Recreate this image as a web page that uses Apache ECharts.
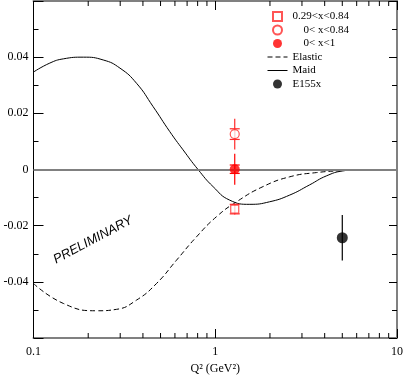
<!DOCTYPE html>
<html>
<head>
<meta charset="utf-8">
<script src="https://cdn.jsdelivr.net/npm/echarts@6/dist/echarts.min.js"></script>
<style>
  html, body { margin: 0; padding: 0; background: #fff; }
  #chart { width: 405px; height: 376px; }
</style>
</head>
<body>
<div id="chart"></div>
<script>
// curves (Q2 in GeV2)
var maidQ2 = [0.1, 0.123, 0.146, 0.188, 0.242, 0.299, 0.369, 0.455, 0.562, 0.665, 0.804, 0.973, 1.20, 1.55, 1.99, 2.57, 3.30, 4.08, 5.04, 6.4, 10];
var maidVal = [0.0347, 0.0379, 0.0394, 0.0400, 0.0390, 0.0361, 0.0307, 0.0224, 0.0135, 0.0070, 0.0, -0.0061, -0.0109, -0.0124, -0.0115, -0.0091, -0.0055, -0.0023, -0.0005, 0, 0];
var elasticQ2 = [0.1, 0.146, 0.222, 0.286, 0.369, 0.475, 0.612, 0.788, 1.016, 1.31, 1.83, 2.57, 3.60, 5.04, 7, 10];
var elasticVal = [-0.0406, -0.0477, -0.0503, -0.0498, -0.0465, -0.0406, -0.0323, -0.0240, -0.0168, -0.0115, -0.0061, -0.0026, -0.0011, -0.0004, 0, 0];

// measured points
var pointNames = ['0.29<x<0.84', '    0< x<0.84', '    0< x<1', 'E155x'];
var pointQ2 = [1.28, 1.28, 1.28, 5.0];
var pointVal = [-0.0141, 0.0126, 0.0001, -0.0243];
var statErr = [0.0017, 0.0019, 0.0015, 0.0081];
var totalErr = [0.0019, 0.0055, 0.0055, 0.0081];

// minor ticks of the log axis
var xMinorTicks = [0.2, 0.3, 0.4, 0.5, 0.6, 0.7, 0.8, 0.9, 2, 3, 4, 5, 6, 7, 8, 9];

var serif = 'Liberation Serif';
var pointColors = ['#ff2a2a', '#ff2a2a', '#ff0000', '#000'];
var pointCaps = [true, true, true, false];

function pairs(xs, ys) {
  var out = [];
  for (var i = 0; i < xs.length; i++) out.push([xs[i], ys[i]]);
  return out;
}

var chart = echarts.init(document.getElementById('chart'));

var errData = [];
for (var i = 0; i < pointQ2.length; i++) {
  errData.push([pointQ2[i], pointVal[i], statErr[i], totalErr[i]]);
}

var noFill = 'rgba(0,0,0,0)';

var option = {
  animation: false,
  grid: { left: 33.5, right: 8, top: 1, bottom: 38, outerBoundsMode: 'none', containLabel: false },
  legend: {
    left: 262,
    top: 6,
    orient: 'vertical',
    itemWidth: 20,
    itemHeight: 9,
    itemGap: 2.5,
    lineStyle: { width: 1 },
    textStyle: { fontFamily: serif, fontSize: 11, color: '#000' },
    data: [pointNames[0], pointNames[1], pointNames[2], 'Elastic', 'Maid', pointNames[3]]
  },
  xAxis: [{
    type: 'log',
    logBase: 10,
    min: 0.1,
    max: 10,
    position: 'bottom',
    axisLine: { onZero: false, lineStyle: { color: '#808080', width: 2 } },
    axisTick: { inside: true, length: 9, lineStyle: { color: '#000' } },
    axisLabel: { fontFamily: serif, fontSize: 12, color: '#000', margin: 8 },
    splitLine: { show: false },
    name: 'Q² (GeV²)',
    nameLocation: 'middle',
    nameGap: 24,
    nameTextStyle: { fontFamily: serif, fontSize: 12, color: '#000' }
  }, {
    type: 'log',
    logBase: 10,
    min: 0.1,
    max: 10,
    position: 'top',
    axisLine: { onZero: false, lineStyle: { color: '#808080', width: 2 } },
    axisTick: { inside: true, length: 9, lineStyle: { color: '#000' } },
    axisLabel: { show: false },
    splitLine: { show: false }
  }],
  yAxis: [{
    type: 'value',
    min: -0.06,
    max: 0.06,
    interval: 0.02,
    position: 'left',
    axisLine: { onZero: false, lineStyle: { color: '#000', width: 1 } },
    axisTick: { inside: true, length: 10, lineStyle: { color: '#000' } },
    minorTick: { show: true, splitNumber: 2, length: 5, lineStyle: { color: '#000' } },
    axisLabel: {
      fontFamily: serif, fontSize: 12, color: '#000', margin: 5,
      formatter: function (v) {
        if (Math.abs(v) < 1e-9) return '0';
        if (Math.abs(v) > 0.05) return '';
        return v.toFixed(2);
      }
    },
    splitLine: { show: false }
  }, {
    type: 'value',
    min: -0.06,
    max: 0.06,
    interval: 0.02,
    position: 'right',
    axisLine: { onZero: false, lineStyle: { color: '#808080', width: 2 } },
    axisTick: { inside: true, length: 8, lineStyle: { color: '#000' } },
    minorTick: { show: true, splitNumber: 2, length: 5, lineStyle: { color: '#000' } },
    axisLabel: { show: false },
    splitLine: { show: false }
  }],
  graphic: [{
    type: 'text',
    x: 93,
    y: 240,
    rotation: 28 * Math.PI / 180,
    style: {
      text: 'PRELIMINARY',
      fontFamily: 'Liberation Sans',
      fontStyle: 'italic',
      fontSize: 13,
      fill: '#000',
      align: 'center',
      verticalAlign: 'middle'
    }
  }],
  series: [
    {
      // minor ticks on bottom and top of the log axis, plus the zero line
      type: 'custom',
      silent: true,
      data: xMinorTicks.map(function (v) { return [v, 0]; }),
      renderItem: function (params, api) {
        var b = api.coord([api.value(0), -0.06]);
        var t = api.coord([api.value(0), 0.06]);
        var st = { stroke: '#000', lineWidth: 1 };
        return {
          type: 'group',
          children: [
            { type: 'line', shape: { x1: b[0], y1: b[1], x2: b[0], y2: b[1] - 5 }, style: st },
            { type: 'line', shape: { x1: t[0], y1: t[1], x2: t[0], y2: t[1] + 5 }, style: st }
          ]
        };
      },
      markLine: {
        silent: true,
        symbol: 'none',
        label: { show: false },
        lineStyle: { color: '#808080', width: 2, type: 'solid' },
        data: [{ yAxis: 0 }]
      },
      z: 1
    },
    {
      name: 'Elastic',
      type: 'line',
      data: pairs(elasticQ2, elasticVal),
      smooth: 0.5,
      symbol: 'none',
      lineStyle: { color: '#000', width: 1, type: [5, 3] },
      itemStyle: { color: noFill },
      z: 3
    },
    {
      name: 'Maid',
      type: 'line',
      data: pairs(maidQ2, maidVal),
      smooth: 0.5,
      symbol: 'none',
      lineStyle: { color: '#000', width: 1 },
      itemStyle: { color: noFill },
      z: 3
    },
    {
      type: 'custom',
      silent: true,
      data: errData,
      renderItem: function (params, api) {
        var i = params.dataIndex;
        var x = api.value(0), y = api.value(1), s = api.value(2), t = api.value(3);
        var tTop = api.coord([x, y + t]), tBot = api.coord([x, y - t]);
        var sTop = api.coord([x, y + s]), sBot = api.coord([x, y - s]);
        var st = { stroke: pointColors[i], lineWidth: 1.2 };
        var kids = [{ type: 'line', shape: { x1: tTop[0], y1: tTop[1], x2: tBot[0], y2: tBot[1] }, style: st }];
        if (pointCaps[i]) {
          kids.push({ type: 'line', shape: { x1: sTop[0] - 5, y1: sTop[1], x2: sTop[0] + 5, y2: sTop[1] }, style: st });
          kids.push({ type: 'line', shape: { x1: sBot[0] - 5, y1: sBot[1], x2: sBot[0] + 5, y2: sBot[1] }, style: st });
          kids.push({ type: 'line', shape: { x1: sTop[0], y1: sTop[1], x2: sBot[0], y2: sBot[1] }, style: st });
        }
        return { type: 'group', children: kids };
      },
      z: 4
    },
    {
      name: pointNames[0],
      type: 'scatter',
      data: [[pointQ2[0], pointVal[0]]],
      symbol: 'path://M0,0H10V10H0Z',
      legendIcon: 'path://M0,0H10V10H0Z',
      symbolSize: 8,
      itemStyle: { color: '#fff', borderColor: '#ff2a2a', borderWidth: 1.2 },
      z: 5
    },
    {
      name: pointNames[1],
      type: 'scatter',
      data: [[pointQ2[1], pointVal[1]]],
      symbol: 'circle',
      symbolSize: 9,
      itemStyle: { color: '#fff', borderColor: '#ff2a2a', borderWidth: 1.2 },
      z: 5
    },
    {
      name: pointNames[2],
      type: 'scatter',
      data: [[pointQ2[2], pointVal[2]]],
      symbol: 'circle',
      symbolSize: 10,
      itemStyle: { color: '#ff0000' },
      z: 5
    },
    {
      name: pointNames[3],
      type: 'scatter',
      data: [[pointQ2[3], pointVal[3]]],
      symbol: 'circle',
      symbolSize: 11,
      itemStyle: { color: '#000' },
      z: 5
    }
  ]
};

chart.setOption(option);
</script>
</body>
</html>
